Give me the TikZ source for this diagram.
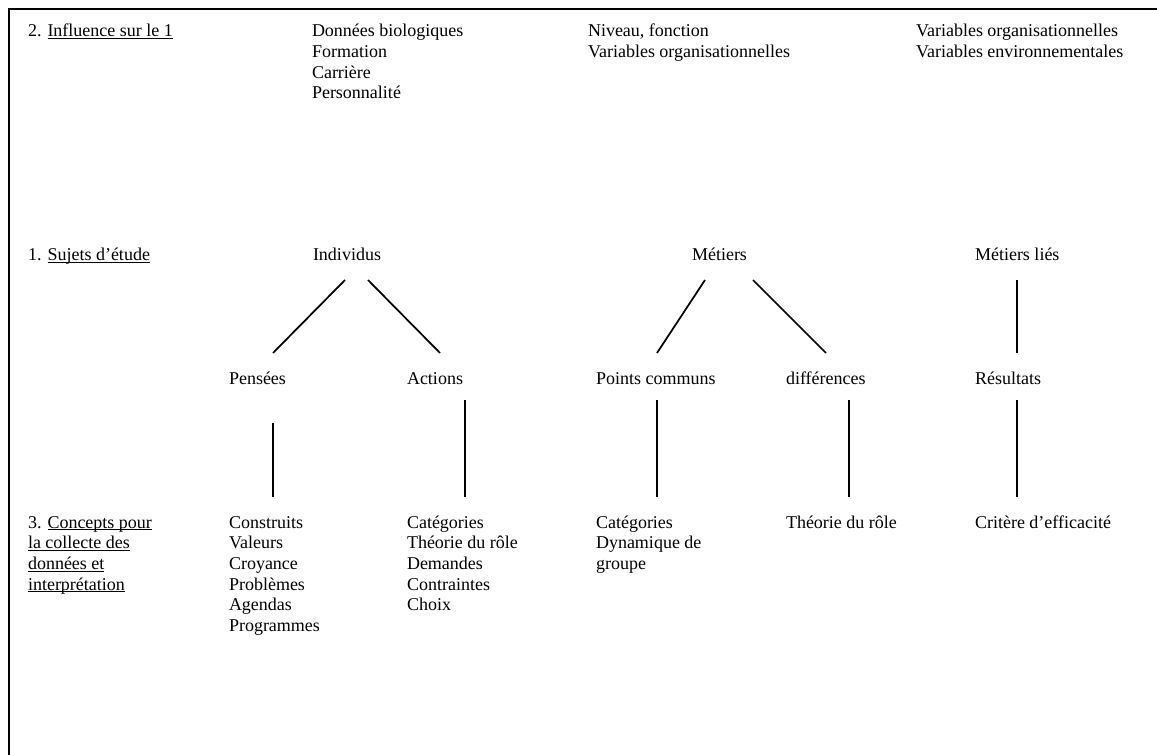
\documentclass[tikz,border=0pt]{standalone}
\usepackage{fontspec}
\setmainfont{Liberation Serif}
% underline at a fixed depth below the baseline
\newcommand\ulne[1]{\setbox0\hbox{#1}\rlap{\rule[-1.7pt]{\wd0}{0.7pt}}\box0}
% left-aligned stack of lines, baseline on the first line
\newcommand\stack[1]{\begin{tabular}[t]{@{}l@{}}#1\end{tabular}}
\begin{document}
\begin{tikzpicture}[x=0.75pt,y=-0.75pt,
  txt/.style={anchor=base west, inner sep=0pt, outer sep=0pt,
    font=\fontsize{13.5}{15.5}\selectfont},
  link/.style={line width=1.3pt},
  frame/.style={line width=1.5pt}]
\useasboundingbox (0,0) rectangle (1157,755);

% frame (top and left edges)
\coordinate (fbl) at (8.5,755);
\coordinate (ftl) at (8.5,9.5);
\coordinate (ftr) at (1157,9.5);
\draw[frame] (fbl) -- (ftl) -- (ftr);

% row 2: influences
\node[txt] (lab2) at (28,37) {2. \ulne{Influence sur le 1}};
\node[txt] (bio) at (312,37) {\stack{Données biologiques\\Formation\\Carrière\\Personnalité}};
\node[txt] (niv) at (588,37) {\stack{Niveau, fonction\\Variables organisationnelles}};
\node[txt] (env) at (916,37) {\stack{Variables organisationnelles\\Variables environnementales}};

% row 1: subjects of study
\node[txt] (lab1) at (28,261) {1. \ulne{Sujets d’étude}};
\node[txt] (ind) at (313,261) {Individus};
\node[txt] (met) at (692,261) {Métiers};
\node[txt] (mlies) at (975,261) {Métiers liés};

% second level
\node[txt] (pens) at (229,385) {Pensées};
\node[txt] (act) at (407,385) {Actions};
\node[txt] (pc) at (596,385) {Points communs};
\node[txt] (diff) at (786,385) {différences};
\node[txt] (res) at (975,385) {Résultats};

% row 3: concepts
\node[txt] (lab3) at (28,528) {\stack{3. \ulne{Concepts pour}\\\ulne{la collecte des}\\\ulne{données et}\\\ulne{interprétation}}};
\node[txt] (cons) at (229,528) {\stack{Construits\\Valeurs\\Croyance\\Problèmes\\Agendas\\Programmes}};
\node[txt] (cat1) at (407,528) {\stack{Catégories\\Théorie du rôle\\Demandes\\Contraintes\\Choix}};
\node[txt] (cat2) at (596,528) {\stack{Catégories\\Dynamique de\\groupe}};
\node[txt] (theo) at (786,528) {Théorie du rôle};
\node[txt] (crit) at (975,528) {Critère d’efficacité};

% connector end points
\coordinate (ind-l) at (345,280);
\coordinate (ind-r) at (368,280);
\coordinate (pens-t) at (273,353);
\coordinate (act-t) at (440,353);
\coordinate (met-l) at (705,280);
\coordinate (met-r) at (753,280);
\coordinate (pc-t) at (657,353);
\coordinate (diff-t) at (826,353);
\coordinate (mlies-b) at (1017,280);
\coordinate (res-t) at (1017,353);

\coordinate (pens-b) at (273,423);
\coordinate (cons-t) at (273,497);
\coordinate (act-b) at (465,400);
\coordinate (cat1-t) at (465,497);
\coordinate (pc-b) at (657,400);
\coordinate (cat2-t) at (657,497);
\coordinate (diff-b) at (849,400);
\coordinate (theo-t) at (849,497);
\coordinate (res-b) at (1017,400);
\coordinate (crit-t) at (1017,497);

% connectors
\draw[link] (ind-l) -- (pens-t);
\draw[link] (ind-r) -- (act-t);
\draw[link] (met-l) -- (pc-t);
\draw[link] (met-r) -- (diff-t);
\draw[link] (mlies-b) -- (res-t);
\draw[link] (pens-b) -- (cons-t);
\draw[link] (act-b) -- (cat1-t);
\draw[link] (pc-b) -- (cat2-t);
\draw[link] (diff-b) -- (theo-t);
\draw[link] (res-b) -- (crit-t);
\end{tikzpicture}
\end{document}
